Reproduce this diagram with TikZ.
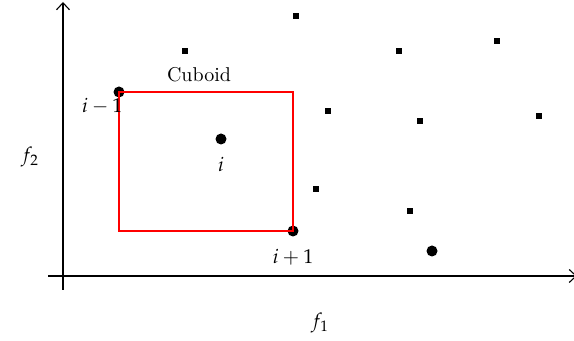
\documentclass[tikz,border=0pt]{standalone}
\usepackage{amsmath}
\usepackage{mathpazo}
\usepackage{xcolor}
\usetikzlibrary{arrows.meta,positioning}

\begin{document}
\begin{tikzpicture}[x=0.5pt,y=-0.5pt,
  axis/.style={line width=0.55pt,-{Straight Barb[length=3.5pt,width=6.5pt]}},
  box/.style={draw=red,line width=0.55pt},
  sol/.style={circle,fill=black,inner sep=0pt,minimum size=5.5pt},
  pt/.style={rectangle,fill=black,inner sep=0pt,minimum size=3pt},
  lbl/.style={inner sep=1pt}]
  \useasboundingbox (0,0) rectangle (574,341);
  % axes
  \coordinate (xs) at (48,276);
  \coordinate (xe) at (577,276);
  \coordinate (ys) at (63,290);
  \coordinate (ye) at (63,2);
  \draw[axis] (xs) -- (xe);
  \draw[axis] (ys) -- (ye);
  \node (f1) at (320,323) {$f_1$};
  \node (f2) at (30,157) {$f_2$};
  % other solutions
  \foreach \x/\y [count=\k] in {185/51,296/16,399/51,497/41,328/111,420/121,539/116,316/189,410/211}
    \node[pt] (q\k) at (\x,\y) {};
  % neighbours of i
  \node[sol] (im1) at (119,92) {};
  \node[sol] (i) at (221,139) {};
  \node[sol] (ip1) at (293,231) {};
  \node[sol] (far) at (432,251) {};
  \draw[box] (im1.center) -- (ip1.center |- im1.center) -- (ip1.center)
    -- (im1.center |- ip1.center) -- cycle;
  \node[lbl] (cub) at (199,75) {Cuboid};
  \node[lbl,below left=0pt and -5pt of im1] {$i-1$};
  \node[lbl,below=5pt of i] {$i$};
  \node[lbl,below=5pt of ip1] {$i+1$};
\end{tikzpicture}
\end{document}
